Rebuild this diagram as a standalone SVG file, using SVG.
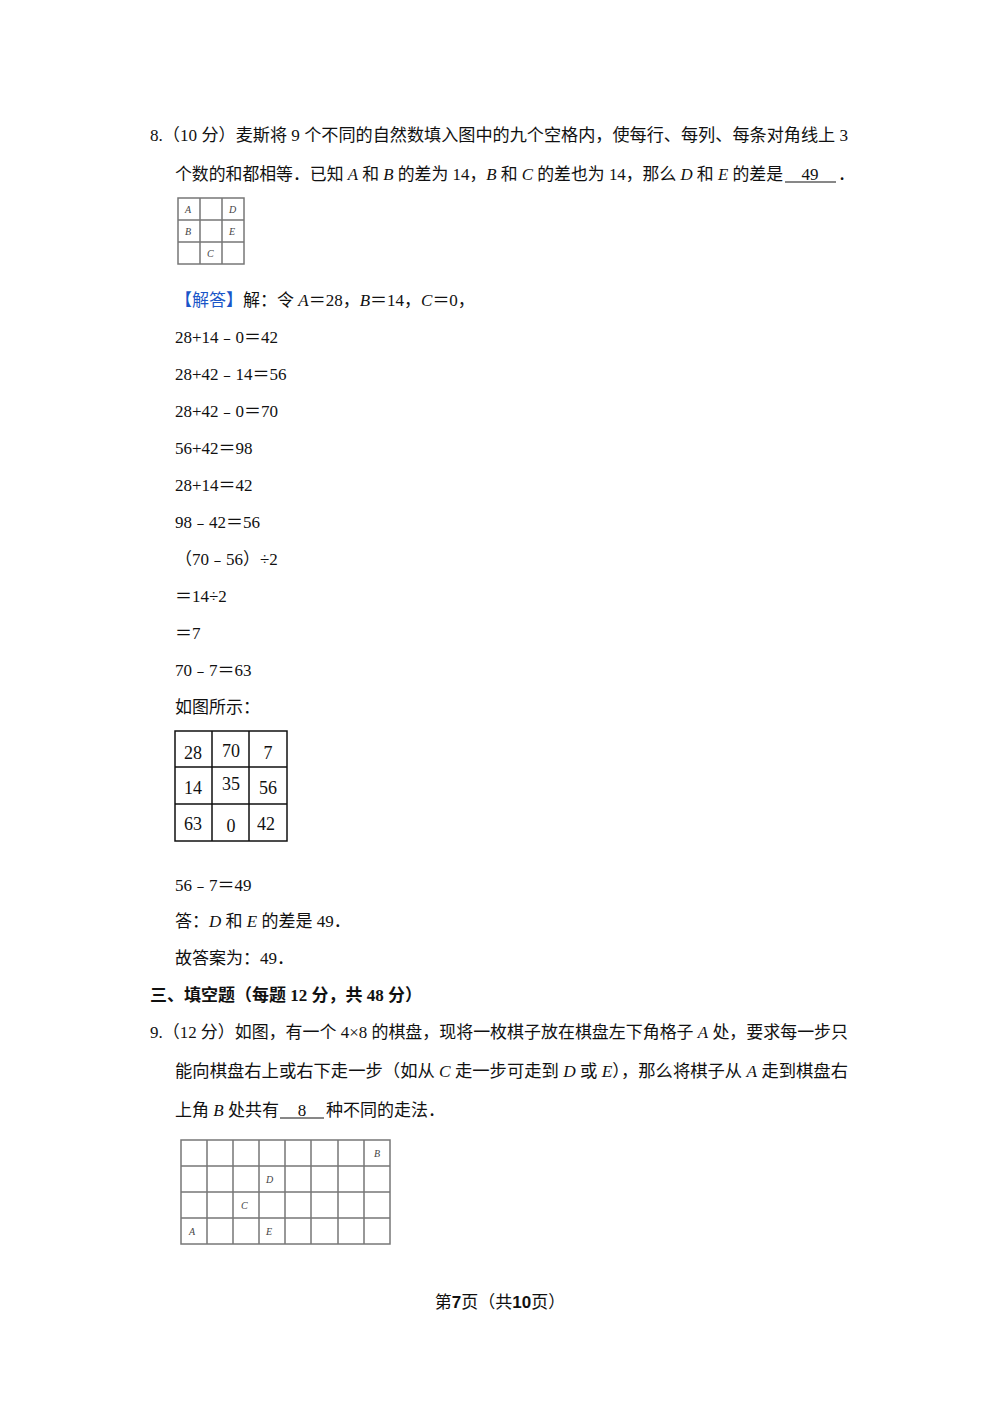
<svg xmlns="http://www.w3.org/2000/svg" width="1000" height="1415" viewBox="0 0 1000 1415">
<style>
text{font-family:"Liberation Serif","Noto Sans CJK SC",serif;font-size:17px;fill:#111}
.i{font-style:italic}
.g{fill:none;stroke:#777;stroke-width:1.5}
.s{font-size:10px;font-style:italic;fill:#444}
.k{fill:none;stroke:#111;stroke-width:1.5}
.n{font-size:18px}
</style>
<rect width="1000" height="1415" fill="#fff"/>
<text x="150" y="141" textLength="698" lengthAdjust="spacingAndGlyphs">8.（10 分）麦斯将 9 个不同的自然数填入图中的九个空格内，使每行、每列、每条对角线上 3</text>
<text x="175" y="180" textLength="608" lengthAdjust="spacingAndGlyphs">个数的和都相等．已知 <tspan class="i">A</tspan> 和 <tspan class="i">B</tspan> 的差为 14，<tspan class="i">B</tspan> 和 <tspan class="i">C</tspan> 的差也为 14，那么 <tspan class="i">D</tspan> 和 <tspan class="i">E</tspan> 的差是</text>
<text x="810" y="180" text-anchor="middle">49</text>
<text x="838" y="180">．</text>
<line x1="785" y1="182" x2="836" y2="182" stroke="#111"/>
<g id="grid1">
<rect class="g" x="178" y="198" width="66" height="66"/>
<path class="g" d="M200 198V264M222 198V264M178 220H244M178 242H244"/>
<text class="s" x="185" y="213">A</text><text class="s" x="229" y="213">D</text>
<text class="s" x="185" y="235">B</text><text class="s" x="229" y="235">E</text>
<text class="s" x="207" y="257">C</text>
</g>
<text x="175" y="306"><tspan fill="#1a56c8">【解答】</tspan>解：令 <tspan class="i">A</tspan>＝28，<tspan class="i">B</tspan>＝14，<tspan class="i">C</tspan>＝0，</text>
<text x="175" y="343">28+14﹣0＝42</text>
<text x="175" y="380">28+42﹣14＝56</text>
<text x="175" y="417">28+42﹣0＝70</text>
<text x="175" y="454">56+42＝98</text>
<text x="175" y="491">28+14＝42</text>
<text x="175" y="528">98﹣42＝56</text>
<text x="175" y="565">（70﹣56）÷2</text>
<text x="175" y="602">＝14÷2</text>
<text x="175" y="639">＝7</text>
<text x="175" y="676">70﹣7＝63</text>
<text x="175" y="713">如图所示：</text>
<g id="grid2">
<rect class="k" x="175" y="731" width="112" height="110"/>
<path class="k" d="M212 731V841M249 731V841M175 767H287M175 804H287"/>
<text class="n" x="193" y="759" text-anchor="middle">28</text><text class="n" x="231" y="757" text-anchor="middle">70</text><text class="n" x="268" y="759" text-anchor="middle">7</text>
<text class="n" x="193" y="794" text-anchor="middle">14</text><text class="n" x="231" y="790" text-anchor="middle">35</text><text class="n" x="268" y="794" text-anchor="middle">56</text>
<text class="n" x="193" y="830" text-anchor="middle">63</text><text class="n" x="231" y="832" text-anchor="middle">0</text><text class="n" x="266" y="830" text-anchor="middle">42</text>
</g>
<text x="175" y="891">56﹣7＝49</text>
<text x="175" y="927">答：<tspan class="i">D</tspan> 和 <tspan class="i">E</tspan> 的差是 49．</text>
<text x="175" y="964">故答案为：49．</text>
<text x="150" y="1001" font-weight="bold">三、填空题（每题 12 分，共 48 分）</text>
<text x="150" y="1038" textLength="698" lengthAdjust="spacingAndGlyphs">9.（12 分）如图，有一个 4×8 的棋盘，现将一枚棋子放在棋盘左下角格子 <tspan class="i">A</tspan> 处，要求每一步只</text>
<text x="175" y="1077" textLength="673" lengthAdjust="spacingAndGlyphs">能向棋盘右上或右下走一步（如从 <tspan class="i">C</tspan> 走一步可走到 <tspan class="i">D</tspan> 或 <tspan class="i">E</tspan>），那么将棋子从 <tspan class="i">A</tspan> 走到棋盘右</text>
<text x="175" y="1116">上角 <tspan class="i">B</tspan> 处共有</text>
<text x="302" y="1116" text-anchor="middle">8</text>
<text x="326" y="1116">种不同的走法．</text>
<line x1="280" y1="1118" x2="324" y2="1118" stroke="#111"/>
<g id="grid3">
<rect class="g" x="181" y="1140" width="209" height="104"/>
<path class="g" d="M207 1140V1244M233 1140V1244M259 1140V1244M285 1140V1244M311 1140V1244M338 1140V1244M364 1140V1244M181 1166H390M181 1192H390M181 1218H390"/>
<text class="s" x="374" y="1157">B</text>
<text class="s" x="266" y="1183">D</text>
<text class="s" x="241" y="1209">C</text>
<text class="s" x="189" y="1235">A</text>
<text class="s" x="266" y="1235">E</text>
</g>
<text x="500" y="1308" text-anchor="middle" font-size="15">第<tspan font-weight="bold" font-family="Liberation Sans">7</tspan>页（共<tspan font-weight="bold" font-family="Liberation Sans">10</tspan>页）</text>
</svg>
